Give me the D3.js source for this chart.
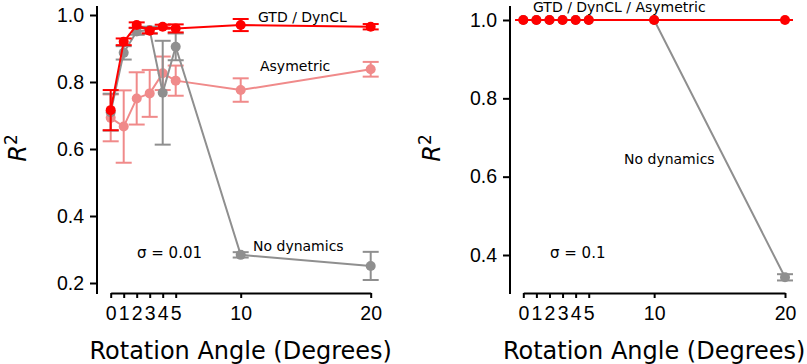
<!DOCTYPE html>
<html>
<head>
<meta charset="utf-8">
<script src="https://cdn.jsdelivr.net/npm/d3@7"></script>
<style>
  body { margin: 0; background: #fff; }
  svg { display: block; font-family: "DejaVu Sans", sans-serif; }
  .tick text { font-size: 19.5px; fill: #000; }
  .tick line { stroke: #000; stroke-width: 2; }
</style>
</head>
<body>
<div id="chart"></div>
<script>
// rotation angles used on the x axis
const angles = [0, 1, 2, 3, 4, 5, 10, 20];

// sigma = 0.01 panel
const gtdLeft      = [0.716, 0.920, 0.970, 0.953, 0.965, 0.960, 0.970, 0.965];
const gtdLeftErr   = [0.060, 0.010, 0.008, 0.008, 0.006, 0.012, 0.018, 0.008];
const asymLeft     = [0.693, 0.667, 0.751, 0.766, 0.826, 0.804, 0.776, 0.838];
const asymLeftErr  = [0.070, 0.108, 0.078, 0.070, 0.050, 0.045, 0.035, 0.022];
const noDynLeft    = [0.710, 0.887, 0.951, 0.955, 0.768, 0.905, 0.284, 0.251];
const noDynLeftErr = [0.055, 0.020, 0.010, 0.010, 0.155, 0.040, 0.008, 0.042];

// sigma = 0.1 panel
const gtdRight      = [1, 1, 1, 1, 1, 1, 1, 1];
const gtdRightErr   = [0, 0, 0, 0, 0, 0, 0, 0];
const noDynRight    = [1, 1, 1, 1, 1, 1, 1, 0.343];
const noDynRightErr = [0, 0, 0, 0, 0, 0, 0, 0.008];

const leftTicks = [0.2, 0.4, 0.6, 0.8, 1.0];
const rightTicks = [0.4, 0.6, 0.8, 1.0];

const width = 807, height = 364;
const svg = d3.select('#chart').append('svg')
  .attr('width', width)
  .attr('height', height);

const RED = '#ff0000', PINK = '#f08a8a', GRAY = '#8f8f8f';

function panel(opts) {
  const g = svg.append('g');
  const x = d3.scaleLinear().domain([0, 20]).range(opts.xRange);
  const y = d3.scaleLinear().domain(opts.yDomain).range(opts.yRange);

  // x axis (trimmed spine, offset downward)
  const xAxisG = g.append('g')
    .attr('transform', `translate(0,${opts.xAxisY})`)
    .call(d3.axisBottom(x).tickValues(angles).tickFormat(d3.format('d'))
      .tickSize(5).tickSizeOuter(0).tickPadding(8));
  xAxisG.select('.domain').attr('stroke', '#000').attr('stroke-width', 2);

  // y axis, full-height spine
  const yAxisG = g.append('g')
    .attr('transform', `translate(${opts.yAxisX},0)`)
    .call(d3.axisLeft(y).tickValues(opts.yTicks).tickFormat(d3.format('.1f'))
      .tickSize(7).tickSizeOuter(0).tickPadding(6));
  yAxisG.select('.domain').remove();
  yAxisG.append('line')
    .attr('y1', 6).attr('y2', 294)
    .attr('stroke', '#000').attr('stroke-width', 2);

  // axis labels
  g.append('text')
    .attr('x', (opts.xRange[0] + opts.xRange[1]) / 2)
    .attr('y', 359)
    .attr('text-anchor', 'middle')
    .attr('font-size', 24)
    .text('Rotation Angle (Degrees)');

  const yl = g.append('text')
    .attr('transform', `translate(${opts.yLabelX},148) rotate(-90)`)
    .attr('text-anchor', 'middle')
    .attr('font-size', 24);
  yl.append('tspan').attr('font-style', 'italic').text('R');
  yl.append('tspan').attr('font-size', 17).attr('dy', -9).text('2');

  const line = d3.line().x(d => x(d[0])).y(d => y(d[1]));

  function series(vals, errs, color, r) {
    const pts = angles.map((a, i) => [a, vals[i], errs[i]]);
    const sg = g.append('g');
    sg.append('path')
      .datum(pts)
      .attr('d', line)
      .attr('fill', 'none')
      .attr('stroke', color)
      .attr('stroke-width', 2);
    const eb = sg.selectAll('g.err').data(pts).enter().append('g')
      .attr('stroke', color).attr('stroke-width', 2);
    eb.append('line')
      .attr('x1', d => x(d[0])).attr('x2', d => x(d[0]))
      .attr('y1', d => y(d[1] - d[2])).attr('y2', d => y(d[1] + d[2]));
    [-1, 1].forEach(s => {
      eb.append('line')
        .attr('x1', d => x(d[0]) - 8).attr('x2', d => x(d[0]) + 8)
        .attr('y1', d => y(d[1] + s * d[2])).attr('y2', d => y(d[1] + s * d[2]));
    });
    sg.selectAll('circle').data(pts).enter().append('circle')
      .attr('cx', d => x(d[0])).attr('cy', d => y(d[1]))
      .attr('r', r).attr('fill', color);
  }

  opts.series.forEach(s => series(s[0], s[1], s[2], 5));

  opts.notes.forEach(n => {
    g.append('text')
      .attr('x', n.x).attr('y', n.y)
      .attr('font-size', n.size || 14)
      .text(n.text);
  });
}

panel({
  xRange: [110.7, 370.7],
  yDomain: [0.2, 1.0],
  yRange: [283, 15],
  xAxisY: 293,
  yAxisX: 97,
  yTicks: leftTicks,
  yLabelX: 26,
  series: [
    [asymLeft, asymLeftErr, PINK],
    [noDynLeft, noDynLeftErr, GRAY],
    [gtdLeft, gtdLeftErr, RED]
  ],
  notes: [
    { x: 258, y: 22, text: 'GTD / DynCL' },
    { x: 260, y: 71, text: 'Asymetric' },
    { x: 253, y: 251, text: 'No dynamics' },
    { x: 137, y: 258, text: 'σ = 0.01', size: 15 }
  ]
});

panel({
  xRange: [523.3, 785],
  yDomain: [0.4, 1.0],
  yRange: [255, 20],
  xAxisY: 293,
  yAxisX: 510,
  yTicks: rightTicks,
  yLabelX: 440,
  series: [
    [noDynRight, noDynRightErr, GRAY],
    [gtdRight, gtdRightErr, RED]
  ],
  notes: [
    { x: 533, y: 12, text: 'GTD / DynCL / Asymetric' },
    { x: 624, y: 164, text: 'No dynamics' },
    { x: 550, y: 258, text: 'σ = 0.1', size: 15 }
  ]
});
</script>
</body>
</html>
